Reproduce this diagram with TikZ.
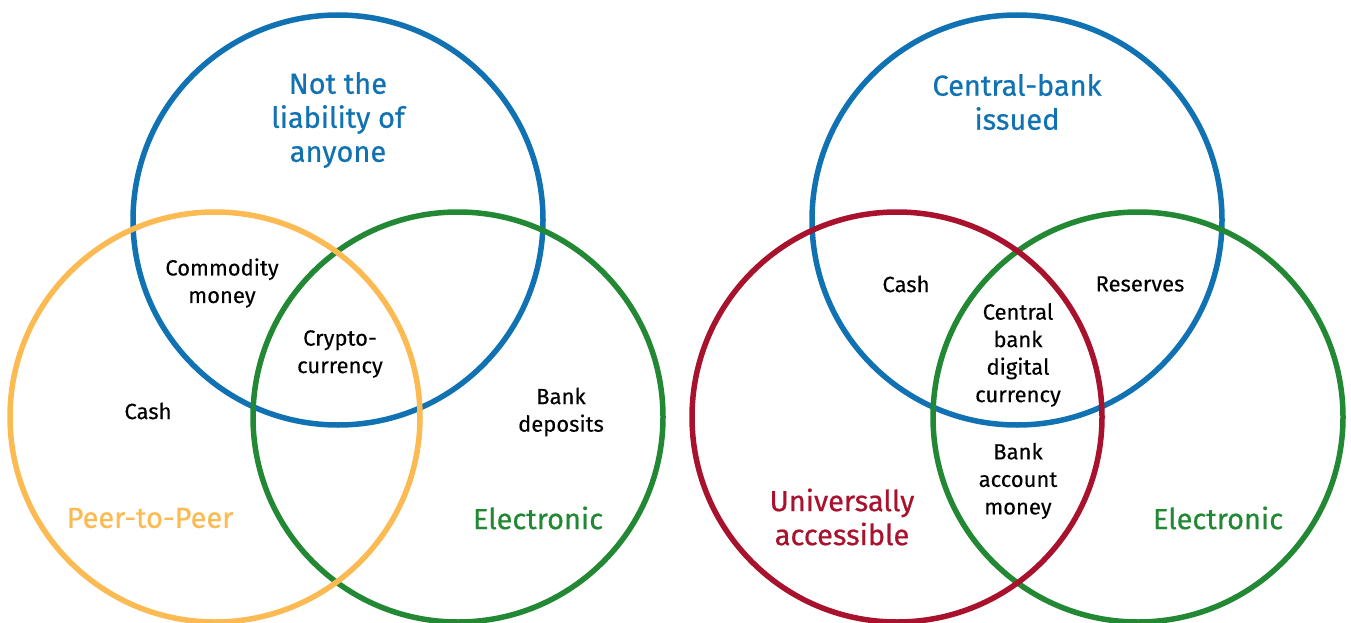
\documentclass[tikz,border=0pt]{standalone}
\usepackage{fontspec}
\setmainfont{Fira Sans}
\newfontfamily\ttlfont[FakeBold=0.6]{Fira Sans}
\newfontfamily\lblfont[FakeBold=0.2]{Fira Sans}
\definecolor{cblue}{RGB}{16,114,178}
\definecolor{corange}{RGB}{252,186,82}
\definecolor{cgreen}{RGB}{34,136,52}
\definecolor{cred}{RGB}{168,18,44}
\begin{document}
\begin{tikzpicture}[x=1pt,y=-1pt,
  ring/.style={circle,draw=#1,line width=5.5pt,minimum size=410pt,inner sep=0pt},
  lbl/.style={align=center,font=\lblfont\fontsize{22}{27.5}\selectfont,text=black,inner sep=0pt},
  ttl/.style={align=center,font=\ttlfont\fontsize{29}{34}\selectfont,text=#1,inner sep=0pt}]
\useasboundingbox (0,0) rectangle (1351,623);
% left diagram
\node[ring=cblue] (lb) at (338,220) {};
\node[ring=cgreen] (lg) at (458,417) {};
\node[ring=corange] (lo) at (215,417) {};
\node[ttl=cblue] (t1) at (338,120) {Not the\\liability of\\anyone};
\node[lbl] (l1) at (222,283) {Commodity\\money};
\node[lbl] (l2) at (340,354) {Crypto-\\currency};
\node[lbl] (l3) at (148,411) {Cash};
\node[lbl] (l4) at (561,412) {Bank\\deposits};
\node[ttl=corange] (t2) at (150,518) {Peer-to-Peer};
\node[ttl=cgreen] (t3) at (538,518) {Electronic};
% right diagram
\node[ring=cblue] (rb) at (1017,220) {};
\node[ring=cgreen] (rg) at (1138,417) {};
\node[ring=cred] (rr) at (897,417) {};
\node[ttl=cblue] (t4) at (1017,102) {Central-bank\\issued};
\node[lbl] (r1) at (906,284) {Cash};
\node[lbl] (r2) at (1140,284) {Reserves};
\node[lbl] (r3) at (1018,355) {Central\\bank\\digital\\currency};
\node[lbl] (r4) at (1018,481) {Bank\\account\\money};
\node[ttl=cred] (t5) at (842,517) {Universally\\accessible};
\node[ttl=cgreen] (t6) at (1218,518) {Electronic};
\end{tikzpicture}
\end{document}
